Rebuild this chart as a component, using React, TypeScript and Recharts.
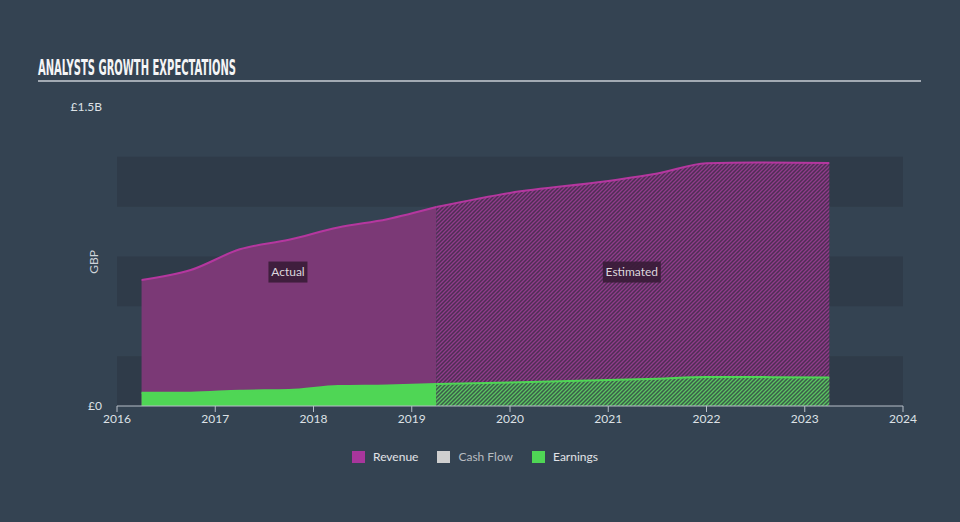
import { AreaChart, Area, XAxis, YAxis, ReferenceArea, ReferenceDot } from "recharts";

// half-year actuals, then analyst estimates (values in £ billions)
const years = [2016.25, 2016.75, 2017.25, 2017.75, 2018.25, 2018.75, 2019.25, 2020, 2021, 2021.5, 2022, 2022.5, 2023.25];
const revenueActual = [0.632, 0.682, 0.786, 0.834, 0.896, 0.937, 0.998, null, null, null, null, null, null];
const revenueEstimate = [null, null, null, null, null, null, 0.998, 1.069, 1.129, 1.166, 1.218, 1.222, 1.219];
const earningsActual = [0.067, 0.067, 0.077, 0.08, 0.1, 0.103, 0.11, null, null, null, null, null, null];
const earningsEstimate = [null, null, null, null, null, null, 0.11, 0.118, 0.13, 0.137, 0.145, 0.145, 0.143];

const xTicks = [2016, 2017, 2018, 2019, 2020, 2021, 2022, 2023, 2024];
const yTicks = [0, 1.5];
const bandStarts = [0, 0.5, 1.0];
const bandEnds = [0.25, 0.75, 1.25];

const legendItems = [
  { name: "Revenue", color: "#a8369c", text: "#e2e4e8" },
  { name: "Cash Flow", color: "#cfcfcf", text: "#b8bcc1" },
  { name: "Earnings", color: "#4fd655", text: "#e2e4e8" },
];

const data = years.map((y, i) => ({
  year: y,
  revA: revenueActual[i],
  revE: revenueEstimate[i],
  earnA: earningsActual[i],
  earnE: earningsEstimate[i],
}));

const FONT = "Lato, 'Open Sans', sans-serif";

function TagBox({ cx, cy, text, w }: { cx?: number; cy?: number; text: string; w: number }) {
  if (cx == null || cy == null) return null;
  return (
    <g>
      <rect x={cx - w / 2} y={cy - 10.5} width={w} height={21} fill="#3a1c38" fillOpacity={0.92} />
      <text x={cx} y={cy + 4} textAnchor="middle" fontSize={12} fill="#ddd6dc" fontFamily={FONT}>
        {text}
      </text>
    </g>
  );
}

export default function App() {
  return (
    <div
      style={{
        position: "absolute",
        left: 0,
        top: 0,
        width: 960,
        height: 522,
        backgroundColor: "#344352",
        fontFamily: FONT,
        overflow: "hidden",
      }}
    >
      {/* title */}
      <svg width={960} height={44} style={{ position: "absolute", left: 0, top: 48 }}>
        <text
          x={38}
          y={27}
          fontSize={21}
          fontWeight={700}
          fill="#f4f5f6"
          fontFamily="'DejaVu Sans Condensed', 'Liberation Sans Narrow', sans-serif"
          textLength={198}
          lengthAdjust="spacingAndGlyphs"
        >
          ANALYSTS GROWTH EXPECTATIONS
        </text>
      </svg>
      <div style={{ position: "absolute", left: 38, top: 80, width: 883, height: 2, backgroundColor: "#a2aab3" }} />

      {/* y axis name */}
      <div
        style={{
          position: "absolute",
          left: 93,
          top: 262,
          transform: "translate(-50%, -50%) rotate(-90deg)",
          fontSize: 12,
          color: "#cfd4da",
        }}
      >
        GBP
      </div>

      <div style={{ position: "absolute", left: 0, top: 0 }}>
        <AreaChart width={960} height={522} data={data} margin={{ top: 107, right: 57, bottom: 86, left: 57 }}>
          <defs>
            <pattern id="hatchRev" patternUnits="userSpaceOnUse" width={4} height={4}>
              <rect width={4} height={4} fill="#4e2e54" />
              <path d="M-1,1 l2,-2 M0,4 l4,-4 M3,5 l2,-2" stroke="#903b8b" strokeWidth={1.3} />
            </pattern>
            <pattern id="hatchEarn" patternUnits="userSpaceOnUse" width={4} height={4}>
              <rect width={4} height={4} fill="#3b5c4a" />
              <path d="M-1,1 l2,-2 M0,4 l4,-4 M3,5 l2,-2" stroke="#5ac560" strokeWidth={1.3} />
            </pattern>
          </defs>
          {bandStarts.map((b, i) => (
            <ReferenceArea
              key={i}
              x1={2016}
              x2={2024}
              y1={b}
              y2={bandEnds[i]}
              fill="#2f3b49"
              fillOpacity={1}
              stroke="none"
            />
          ))}
          <XAxis
            dataKey="year"
            type="number"
            domain={[2016, 2024]}
            ticks={xTicks}
            height={30}
            axisLine={{ stroke: "#b7bfc8" }}
            tickLine={{ stroke: "#b7bfc8" }}
            tickSize={6}
            tick={{ fontSize: 12, fill: "#dde1e6", fontFamily: FONT }}
          />
          <YAxis
            type="number"
            domain={[0, 1.5]}
            ticks={yTicks}
            width={60}
            axisLine={false}
            tickLine={false}
            tickSize={0}
            tickMargin={15}
            tick={{ fontSize: 12, fill: "#dde1e6", fontFamily: FONT }}
            tickFormatter={(v: number) => (v === 0 ? "£0" : `£${v}B`)}
          />
          <Area
            type="monotone"
            dataKey="revA"
            stroke="#b5379f"
            strokeWidth={2}
            fill="#7b3976"
            fillOpacity={1}
            isAnimationActive={false}
          />
          <Area
            type="monotone"
            dataKey="revE"
            stroke="#b5379f"
            strokeWidth={2}
            fill="url(#hatchRev)"
            fillOpacity={1}
            isAnimationActive={false}
          />
          <Area
            type="monotone"
            dataKey="earnA"
            stroke="#4fd655"
            strokeWidth={2}
            fill="#4fd655"
            fillOpacity={1}
            isAnimationActive={false}
          />
          <Area
            type="monotone"
            dataKey="earnE"
            stroke="#4fd655"
            strokeWidth={2}
            fill="url(#hatchEarn)"
            fillOpacity={1}
            isAnimationActive={false}
          />
          <ReferenceDot
            x={2017.74}
            y={0.672}
            r={0}
            ifOverflow="visible"
            shape={(p: any) => <TagBox cx={p.cx} cy={p.cy} text="Actual" w={39} />}
          />
          <ReferenceDot
            x={2021.24}
            y={0.672}
            r={0}
            ifOverflow="visible"
            shape={(p: any) => <TagBox cx={p.cx} cy={p.cy} text="Estimated" w={58} />}
          />
        </AreaChart>
      </div>

      {/* legend */}
      <div style={{ position: "absolute", left: 352, top: 449, display: "flex", alignItems: "center", fontSize: 12 }}>
        {legendItems.map((it, i) => (
          <div key={it.name} style={{ display: "flex", alignItems: "center", marginRight: i < 2 ? 19 : 0 }}>
            <div style={{ width: 13, height: 12, backgroundColor: it.color, marginRight: 8 }} />
            <span style={{ color: it.text }}>{it.name}</span>
          </div>
        ))}
      </div>
    </div>
  );
}
